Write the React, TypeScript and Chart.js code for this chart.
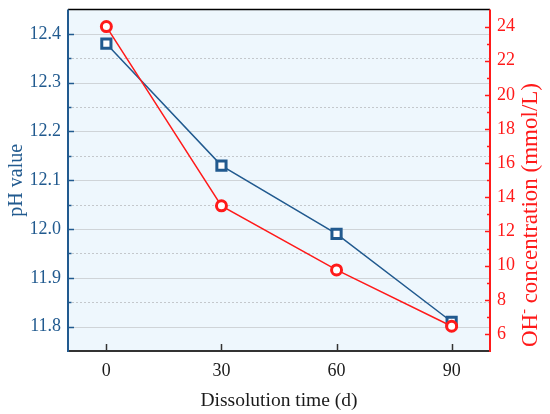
import { useEffect, useRef } from 'react'
import { Chart, registerables } from 'chart.js'
import type { Plugin } from 'chart.js'

Chart.register(...registerables)

// dissolution time (d)
const days = [0, 30, 60, 90]
// pH value, left axis
const phValues = [12.38, 12.13, 11.99, 11.81]
// OH- concentration (mmol/L), right axis
const ohConcentration = [24.0, 13.5, 9.75, 6.45]

const dayTicks = [0, 30, 60, 90]
const phTicks = [11.8, 11.9, 12.0, 12.1, 12.2, 12.3, 12.4]
const phMinorTicks = [11.85, 11.95, 12.05, 12.15, 12.25, 12.35]
const ohTicks = [6, 8, 10, 12, 14, 16, 18, 20, 22, 24]
const ohMinorTicks = [7, 9, 11, 13, 15, 17, 19, 21, 23]

const BLUE = '#215a8f'
const RED = '#ff1a1a'
const DARK = '#1a1a1a'
const FONT = "'Liberation Serif', 'Times New Roman', serif"

const framePlugin: Plugin<'line'> = {
  id: 'frame',
  beforeDatasetsDraw(chart) {
    const { ctx, chartArea: a, scales } = chart
    const y = scales.y
    ctx.save()
    ctx.fillStyle = '#eef7fd'
    ctx.fillRect(a.left, a.top, a.right - a.left, a.bottom - a.top)
    ctx.lineWidth = 1
    ctx.strokeStyle = '#cfd4d8'
    phTicks.forEach((v) => {
      const py = Math.round(y.getPixelForValue(v)) + 0.5
      ctx.beginPath()
      ctx.moveTo(a.left, py)
      ctx.lineTo(a.right, py)
      ctx.stroke()
    })
    ctx.strokeStyle = '#c4c8cc'
    ctx.setLineDash([2, 2])
    phMinorTicks.forEach((v) => {
      const py = Math.round(y.getPixelForValue(v)) + 0.5
      ctx.beginPath()
      ctx.moveTo(a.left, py)
      ctx.lineTo(a.right, py)
      ctx.stroke()
    })
    ctx.restore()
  },
  afterDatasetsDraw(chart) {
    const { ctx, chartArea: a, scales } = chart
    const x = scales.x
    const y = scales.y
    const y1 = scales.y1
    ctx.save()

    const seg = (x0: number, y0: number, x1: number, y1_: number) => {
      ctx.beginPath()
      ctx.moveTo(x0, y0)
      ctx.lineTo(x1, y1_)
      ctx.stroke()
    }

    // top border
    ctx.strokeStyle = '#000'
    ctx.lineWidth = 1.5
    seg(a.left, a.top, a.right, a.top)

    // bottom axis
    ctx.strokeStyle = '#333'
    ctx.lineWidth = 2
    seg(a.left - 1, a.bottom, a.right + 1, a.bottom)
    dayTicks.forEach((v) => {
      const px = Math.round(x.getPixelForValue(v)) + 0.5
      ctx.lineWidth = 1.5
      seg(px, a.bottom, px, a.bottom - 7)
    })

    // left axis
    ctx.strokeStyle = BLUE
    ctx.lineWidth = 2
    seg(a.left, a.top, a.left, a.bottom + 1)
    ctx.lineWidth = 1.5
    phTicks.forEach((v) => {
      const py = Math.round(y.getPixelForValue(v)) + 0.5
      seg(a.left, py, a.left + 6, py)
    })
    phMinorTicks.forEach((v) => {
      const py = Math.round(y.getPixelForValue(v)) + 0.5
      seg(a.left, py, a.left + 3.5, py)
    })

    // right axis
    ctx.strokeStyle = RED
    ctx.lineWidth = 2
    seg(a.right, a.top, a.right, a.bottom + 1)
    ctx.lineWidth = 1.5
    ohTicks.forEach((v) => {
      const py = Math.round(y1.getPixelForValue(v)) + 0.5
      seg(a.right, py, a.right - 5, py)
    })
    ohMinorTicks.forEach((v) => {
      const py = Math.round(y1.getPixelForValue(v)) + 0.5
      seg(a.right, py, a.right - 3, py)
    })
    ctx.restore()
  },
  afterDraw(chart) {
    // right title reads bottom-to-top, with a superscript minus on OH
    const { ctx } = chart
    const main = `23px ${FONT}`
    const sup = `14px ${FONT}`
    ctx.save()
    ctx.translate(531, 215)
    ctx.rotate(-Math.PI / 2)
    ctx.fillStyle = RED
    ctx.textBaseline = 'middle'
    ctx.textAlign = 'left'
    ctx.font = main
    const w1 = ctx.measureText('OH').width
    const w3 = ctx.measureText(' concentration (mmol/L)').width
    ctx.font = sup
    const w2 = ctx.measureText('-').width
    let px = -(w1 + w2 + w3) / 2
    ctx.font = main
    ctx.fillText('OH', px, 0)
    px += w1
    ctx.font = sup
    ctx.fillText('-', px, -7)
    px += w2
    ctx.font = main
    ctx.fillText(' concentration (mmol/L)', px, 0)
    ctx.restore()
  },
}

export default function App() {
  const canvasRef = useRef<HTMLCanvasElement>(null)

  useEffect(() => {
    if (!canvasRef.current) return

    const chart = new Chart(canvasRef.current, {
      type: 'line',
      data: {
        datasets: [
          {
            label: 'pH value',
            data: days.map((d, i) => ({ x: d, y: phValues[i] })),
            yAxisID: 'y',
            borderColor: BLUE,
            borderWidth: 1.5,
            pointStyle: 'rect',
            pointRadius: 6.5,
            pointBorderWidth: 3,
            pointBackgroundColor: '#fff',
            pointBorderColor: BLUE,
            order: 2,
          },
          {
            label: 'OH- concentration',
            data: days.map((d, i) => ({ x: d, y: ohConcentration[i] })),
            yAxisID: 'y1',
            borderColor: RED,
            borderWidth: 1.5,
            pointStyle: 'circle',
            pointRadius: 5,
            pointBorderWidth: 3,
            pointBackgroundColor: '#fff',
            pointBorderColor: RED,
            order: 1,
          },
        ],
      },
      options: {
        animation: false,
        responsive: true,
        maintainAspectRatio: false,
        layout: { padding: { top: 8, left: 0, right: 0, bottom: 0 } },
        plugins: {
          legend: { display: false },
          tooltip: { enabled: false },
        },
        scales: {
          x: {
            type: 'linear',
            min: -10,
            max: 100,
            grid: { display: false, drawTicks: false },
            border: { display: false },
            afterBuildTicks: (s) => {
              s.ticks = dayTicks.map((v) => ({ value: v }))
            },
            afterFit: (s) => {
              s.height = 63
              s.paddingLeft = 0
              s.paddingRight = 0
            },
            ticks: {
              color: DARK,
              padding: 9,
              font: { family: FONT, size: 18 },
            },
            title: {
              display: true,
              text: 'Dissolution time (d)',
              color: DARK,
              font: { family: FONT, size: 19.5 },
              padding: { top: 0, bottom: 1 },
            },
          },
          y: {
            position: 'left',
            min: 11.75,
            max: 12.45,
            grid: { display: false, drawTicks: false },
            border: { display: false },
            afterBuildTicks: (s) => {
              s.ticks = phTicks.map((v) => ({ value: v }))
            },
            afterFit: (s) => {
              s.width = 68
              s.paddingTop = 0
              s.paddingBottom = 0
            },
            ticks: {
              color: BLUE,
              padding: 7,
              font: { family: FONT, size: 18 },
              callback: (v) => Number(v).toFixed(1),
            },
            title: {
              display: true,
              text: 'pH value',
              color: BLUE,
              font: { family: FONT, size: 20 },
              padding: { top: 5, bottom: 0 },
            },
          },
          y1: {
            position: 'right',
            min: 5,
            max: 25,
            grid: { display: false, drawTicks: false },
            border: { display: false },
            afterBuildTicks: (s) => {
              s.ticks = ohTicks.map((v) => ({ value: v }))
            },
            afterFit: (s) => {
              s.width = 60
              s.paddingTop = 0
              s.paddingBottom = 0
            },
            ticks: {
              color: RED,
              padding: 7,
              font: { family: FONT, size: 18 },
            },
          },
        },
      },
      plugins: [framePlugin],
    })

    return () => chart.destroy()
  }, [])

  return (
    <div style={{ position: 'absolute', left: 0, top: 0, width: 550, height: 414 }}>
      <canvas ref={canvasRef} />
    </div>
  )
}
